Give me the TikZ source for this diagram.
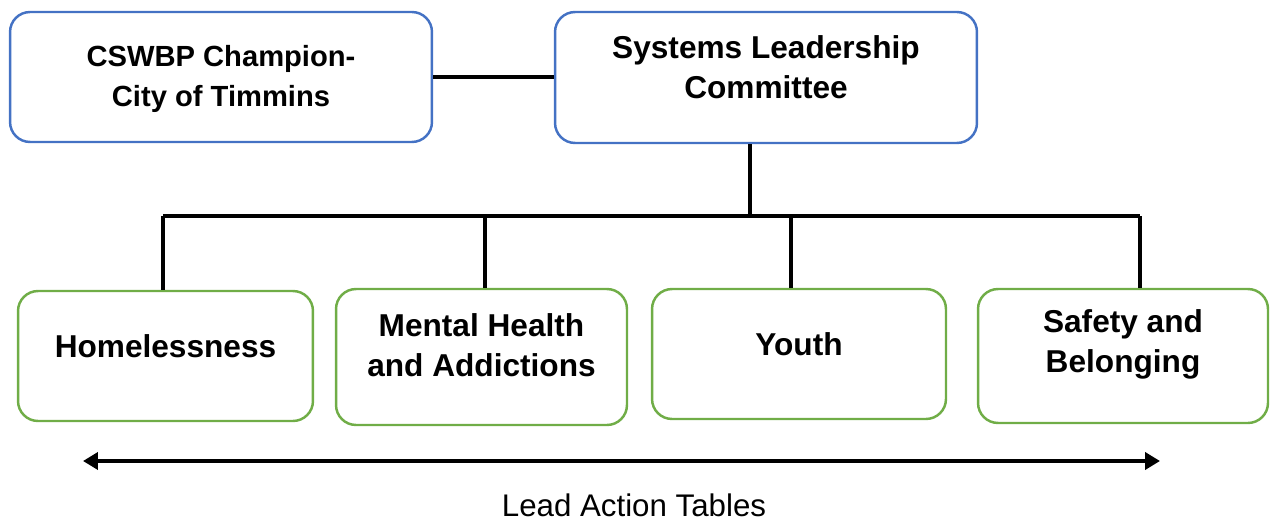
\documentclass[tikz,border=0pt]{standalone}
\usepackage{fontspec}
\setmainfont{Liberation Sans}
\usepackage{tikz}
\usetikzlibrary{arrows.meta}

\definecolor{leadblue}{HTML}{4472C4}
\definecolor{tablegreen}{HTML}{70AD47}

\tikzset{
	box/.style={draw, line width=1.4pt, rounded corners=0.4cm, fill=white, inner sep=0pt},
	topbox/.style={box, draw=leadblue, minimum width=8.44cm, minimum height=2.6cm},
	tablebox/.style={box, draw=tablegreen, minimum width=5.85cm, minimum height=2.6cm},
	boxtext/.style={align=center, font=\bfseries\fontsize{18}{22.8}\selectfont},
	link/.style={line width=2.2pt}
}

\begin{document}
\begin{tikzpicture}[x=0.02cm, y=-0.02cm]
					\useasboundingbox (0,0) rectangle (1270,520);
					% Top row
					\node[topbox, label={[boxtext, font=\bfseries\fontsize{16.6}{22.8}\selectfont, yshift=-0.04cm]center:CSWBP Champion-\\City of Timmins}] (champ) at (221,77) {};
					\node[topbox, minimum height=2.62cm, label={[boxtext, yshift=0.2cm]center:Systems Leadership\\Committee}] (slc) at (766,77.5) {};
					\draw[link] (champ.east) -- (champ.east -| slc.west);
					% Lead action tables
					\node[tablebox, minimum width=5.9cm, label={[boxtext, yshift=0.2cm]center:Homelessness}] (home) at (165.5,356) {};
					\node[tablebox, minimum width=5.82cm, minimum height=2.72cm, label={[boxtext, yshift=0.24cm]center:Mental Health\\and Addictions}] (mha) at (481.5,357) {};
					\node[tablebox, minimum width=5.88cm, label={[boxtext, yshift=0.2cm]center:Youth}] (youth) at (799,354) {};
					\node[tablebox, minimum width=5.8cm, minimum height=2.68cm, label={[boxtext, yshift=0.23cm]center:Safety and\\Belonging}] (safe) at (1123,356) {};
					% Bus down to the tables
					\coordinate (bl) at (163,216);
					\coordinate (br) at (1140,216);
					\draw[link] (slc.south -| 750,0) -- (750,216);
					\draw[link] (bl) -- (br);
					\foreach \x/\t in {163/home, 485/mha, 791/youth, 1140/safe}
						\draw[link] (\x,216) -- (\x,0 |- \t.north);
					% Span arrow
					\coordinate (al) at (83,461);
					\coordinate (ar) at (1160,461);
					\draw[link, {Triangle[length=0.3cm,width=0.34cm]}-{Triangle[length=0.3cm,width=0.34cm]}] (al) -- (ar);
					\node[font=\fontsize{17.8}{18}\selectfont, anchor=base, inner sep=0pt, text depth=0pt] (lat) at (634,516) {Lead Action Tables};
				\end{tikzpicture}
\end{document}
